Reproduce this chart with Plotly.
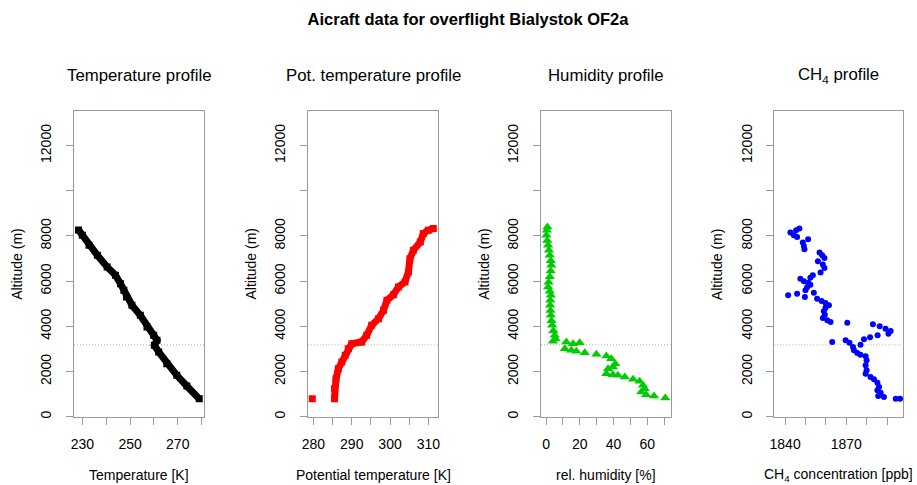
import plotly.graph_objects as go

# ---------------- data ----------------
# Temperature profile
temp_alt = [8266, 8032, 7590, 7147, 6629, 6261, 5889, 5597, 5300, 4933,
            4490, 3972, 3604, 3383, 3162, 2865, 2347, 1833, 1359, 790]
temp_K = [228.4, 230.0, 232.8, 236.3, 240.4, 243.9, 246.0, 247.4, 248.5, 250.8,
          254.3, 257.1, 259.9, 261.3, 260.2, 262.0, 265.4, 269.6, 273.8, 279.0]

# Potential temperature profile (first value is the isolated low point)
theta_alt = [797, 797, 1240, 1683, 2125, 2422, 2718, 3011, 3232, 3308, 3604,
             4047, 4339, 4711, 5154, 5402, 5743, 5965, 6407, 6996, 7368,
             7736, 8103, 8254, 8325]
theta_K = [279.7, 285.5, 285.5, 285.9, 286.5, 287.4, 288.3, 289.1, 290.0, 292.6, 293.9,
           295.2, 297.0, 298.3, 299.2, 300.9, 302.2, 303.9, 304.8, 305.2, 306.1,
           307.9, 308.7, 310.0, 311.3]

# Relative humidity profile
rh_alt = [8400, 8250, 8030, 7800, 7590, 7370, 7150, 6900, 6700, 6450, 6190,
          5950, 5740, 5550, 5380, 5150, 4930, 4700, 4490, 4250, 4050, 3800,
          3600, 3450, 3339,
          3308, 3232, 3277, 3011, 2940, 2896, 2834, 2763, 2688, 2568, 2347,
          2200, 2125, 1904, 1860, 1833, 1758, 1656, 1568, 1390, 1240, 1094,
          974, 917, 828]
rh_pct = [0.8, 0.5, 0.2, 0.7, 1.2, 1.7, 2.2, 2.8, 3.1, 2.7, 2.2,
          1.5, 1.2, 2.2, 2.8, 2.5, 2.4, 2.6, 2.8, 3.2, 3.6, 4.3,
          5.1, 5.5, 4.1,
          12.0, 16.0, 19.9, 11.1, 15.0, 17.9, 22.9, 29.8, 35.7, 38.6, 41.0,
          39.6, 36.7, 35.7, 39.6, 42.6, 46.6, 51.5, 55.4, 57.4, 58.4, 56.4,
          59.3, 63.9, 70.6]

# CH4 profile
ch4_alt = [8325, 8254, 8148, 8032, 7957, 7855, 7705, 7559, 7413, 7262, 7147,
           7027, 6881, 6731, 6585, 6377, 6261, 6155, 6111, 5996, 5934, 5845,
           5730, 5597, 5491, 5446, 5376, 5300, 5225, 5123, 5035, 4933, 4813,
           4667, 4517, 4370, 4269, 4193, 4162, 4091, 4003, 3897, 3795, 3675,
           3604, 3516, 3427, 3383, 3308, 3277, 3188, 3086, 2940, 2821, 2746,
           2675, 2497, 2276, 2055, 1904, 1758, 1656, 1506, 1315, 1169, 1063,
           917, 872, 797, 797]
ch4_ppb = [1847.0, 1845.4, 1842.6, 1844.3, 1845.9, 1851.3, 1848.7, 1849.2, 1849.5, 1856.9, 1858.2,
           1859.3, 1856.1, 1858.5, 1859.3, 1857.4, 1853.6, 1852.4, 1847.5, 1849.2, 1851.3, 1852.4,
           1850.8, 1850.0, 1854.1, 1845.9, 1841.5, 1849.7, 1855.7, 1857.9, 1859.8, 1861.5, 1859.8,
           1859.0, 1859.5, 1858.5, 1860.7, 1862.3, 1870.5, 1883.1, 1886.4, 1889.3, 1891.8, 1890.7,
           1885.4, 1881.7, 1878.7, 1869.7, 1863.1, 1871.6, 1877.0, 1873.3, 1873.8, 1875.4, 1877.0,
           1879.5, 1880.0, 1879.5, 1880.0, 1879.5, 1881.9, 1883.6, 1885.3, 1886.1, 1885.3, 1886.9,
           1885.7, 1888.5, 1894.3, 1896.4]

mixing_height = 3180  # dotted reference line (m)

panel_titles = ["Temperature profile", "Pot. temperature profile",
                "Humidity profile", "CH<sub>4</sub> profile"]
x_titles = ["Temperature [K]", "Potential temperature [K]",
            "rel. humidity [%]", "CH<sub>4</sub> concentration [ppb]"]
y_title = "Altitude (m)"

# labelled ticks, plus unlabelled minor tick spacing
x_tickvals = [[230, 250, 270],
              [280, 290, 300, 310],
              [0, 20, 40, 60],
              [1840, 1870]]
x_ticktext = [["230", "250", "270"],
              ["280", "290", "300", "310"],
              ["0", "20", "40", "60"],
              ["1840", "1870"]]
x_minor = [(230, 10), (280, 5), (0, 10), (1840, 10)]
x_ranges = [[226.5, 281.0], [278.5, 312.6], [-3.0, 74.0], [1834.7, 1898.0]]
y_tickvals = [0, 2000, 4000, 6000, 8000, 12000]
y_ticktext = ["0", "2000", "4000", "6000", "8000", "12000"]
y_minor = (0, 2000)
y_range = [0, 13530]

# ---------------- layout geometry ----------------
W, H = 917, 485
box_px = [(74, 204), (307.7, 438.3), (541, 671), (774.3, 903.3)]
y_top_px, y_bot_px = 111, 416.7
ydom = [(H - y_bot_px) / H, (H - y_top_px) / H]

FONT = "Liberation Sans, Arial, Helvetica, sans-serif"
AXCOL = "#9a9a9a"

fig = go.Figure()

# Temperature: dense squares drawn as a thick band
fig.add_trace(go.Scatter(x=temp_K, y=temp_alt, mode="lines+markers",
                         line=dict(color="black", width=7),
                         marker=dict(symbol="square", size=7, color="black"),
                         xaxis="x", yaxis="y", showlegend=False))
# Potential temperature
fig.add_trace(go.Scatter(x=theta_K[1:], y=theta_alt[1:], mode="lines",
                         line=dict(color="#ff0000", width=7),
                         xaxis="x2", yaxis="y2", showlegend=False))
fig.add_trace(go.Scatter(x=theta_K, y=theta_alt, mode="markers",
                         marker=dict(symbol="square", size=7, color="#ff0000"),
                         xaxis="x2", yaxis="y2", showlegend=False))
# Humidity
fig.add_trace(go.Scatter(x=rh_pct, y=rh_alt, mode="markers",
                         marker=dict(symbol="triangle-up", size=9, color="#00cd00"),
                         xaxis="x3", yaxis="y3", showlegend=False))
# CH4
fig.add_trace(go.Scatter(x=ch4_ppb, y=ch4_alt, mode="markers",
                         marker=dict(symbol="circle", size=6, color="#0000ff"),
                         xaxis="x4", yaxis="y4", showlegend=False))

layout = dict(
    width=W, height=H,
    margin=dict(l=0, r=0, t=0, b=0),
    paper_bgcolor="white", plot_bgcolor="white",
    font=dict(family=FONT, size=14, color="black"),
    title=dict(text="<b>Aicraft data for overflight Bialystok OF2a</b>",
               x=468 / W, y=1 - 19 / H, xanchor="center", yanchor="middle",
               font=dict(family=FONT, size=16.5, color="black")),
    showlegend=False,
)

annotations = []
shapes = []
for i in range(4):
    sfx = "" if i == 0 else str(i + 1)
    x0, x1 = box_px[i]
    layout["xaxis" + sfx] = dict(
        domain=[x0 / W, x1 / W], range=x_ranges[i], anchor="y" + sfx,
        showline=True, linecolor=AXCOL, linewidth=1, mirror=True,
        ticks="outside", ticklen=7, tickcolor=AXCOL, tickwidth=1,
        tickmode="array", tickvals=x_tickvals[i], ticktext=x_ticktext[i],
        minor=dict(ticks="outside", ticklen=7, tickcolor=AXCOL, tickwidth=1,
                   tick0=x_minor[i][0], dtick=x_minor[i][1], showgrid=False),
        ticklabelstandoff=7,
        showgrid=False, zeroline=False, automargin=False,
        tickfont=dict(family=FONT, size=14, color="black"),
    )
    layout["yaxis" + sfx] = dict(
        domain=ydom, range=y_range, anchor="x" + sfx,
        showline=True, linecolor=AXCOL, linewidth=1, mirror=True,
        ticks="outside", ticklen=7, tickcolor=AXCOL, tickwidth=1,
        tickmode="array", tickvals=y_tickvals, ticktext=y_ticktext, tickangle=-90,
        minor=dict(ticks="outside", ticklen=7, tickcolor=AXCOL, tickwidth=1,
                   tick0=y_minor[0], dtick=y_minor[1], showgrid=False),
        ticklabelstandoff=9,
        showgrid=False, zeroline=False, automargin=False,
        tickfont=dict(family=FONT, size=14, color="black"),
    )
    cx = (x0 + x1) / 2
    annotations.append(dict(text=panel_titles[i], x=cx / W, y=1 - 75 / H,
                            xref="paper", yref="paper", showarrow=False,
                            xanchor="center", yanchor="middle",
                            font=dict(family=FONT, size=16.8, color="black")))
    annotations.append(dict(text=x_titles[i], x=cx / W, y=1 - 475 / H,
                            xref="paper", yref="paper", showarrow=False,
                            xanchor="center", yanchor="middle",
                            font=dict(family=FONT, size=14, color="black")))
    annotations.append(dict(text=y_title, x=(x0 - 57) / W,
                            y=(ydom[0] + ydom[1]) / 2,
                            xref="paper", yref="paper", showarrow=False,
                            textangle=-90, xanchor="center", yanchor="middle",
                            font=dict(family=FONT, size=14, color="black")))
    shapes.append(dict(type="line", xref="x" + sfx + " domain", yref="y" + sfx,
                       x0=0, x1=1, y0=mixing_height, y1=mixing_height,
                       line=dict(color="#b0b0b0", width=1, dash="1px,2px"),
                       layer="below"))

layout["annotations"] = annotations
layout["shapes"] = shapes
fig.update_layout(**layout)

# remove the default 8px page margin so the figure sits at the window origin
fig.write_html("out.html",
               config={"displayModeBar": False},
               post_script="document.body.style.margin='0';document.body.style.overflow='hidden';")
